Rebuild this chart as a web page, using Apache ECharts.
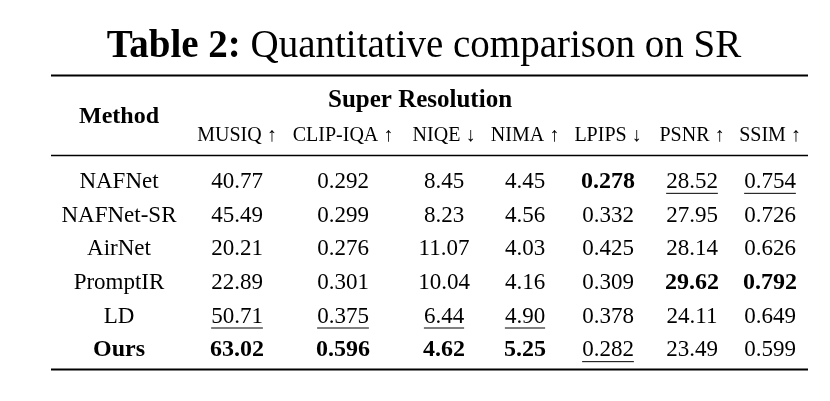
<!DOCTYPE html>
<html><head><meta charset="utf-8">
<script src="https://cdn.jsdelivr.net/npm/echarts@6/dist/echarts.min.js"></script>
<style>html,body{margin:0;padding:0;background:#fff}#c{width:830px;height:401px}</style>
</head><body><div id="c"></div>
<script>
// ---- data ----
const methods = ['NAFNet', 'NAFNet-SR', 'AirNet', 'PromptIR', 'LD', 'Ours'];
const metrics = ['MUSIQ', 'CLIP-IQA', 'NIQE', 'NIMA', 'LPIPS', 'PSNR', 'SSIM'];
const arrows = ['↑', '↑', '↓', '↑', '↓', '↑', '↑'];
const MUSIQ = [40.77, 45.49, 20.21, 22.89, 50.71, 63.02];
const CLIPIQA = [0.292, 0.299, 0.276, 0.301, 0.375, 0.596];
const NIQE = [8.45, 8.23, 11.07, 10.04, 6.44, 4.62];
const NIMA = [4.45, 4.56, 4.03, 4.16, 4.90, 5.25];
const LPIPS = [0.278, 0.332, 0.425, 0.309, 0.378, 0.282];
const PSNR = [28.52, 27.95, 28.14, 29.62, 24.11, 23.49];
const SSIM = [0.754, 0.726, 0.626, 0.792, 0.649, 0.599];
const decimals = [2, 3, 2, 2, 3, 2, 3];
const best = [5, 5, 5, 5, 0, 3, 3];     // bold row per metric
const second = [4, 4, 4, 4, 5, 0, 0];   // underlined row per metric
const titleBold = 'Table 2:';
const titleRest = 'Quantitative comparison on SR';
const groupLabel = 'Super Resolution';
const methodLabel = 'Method';

// ---- layout ----
const colX = [119, 237, 343, 444, 525, 608, 692, 770];
const FONT = '"Liberation Serif", "Times New Roman", serif';
const FS = 23, BFS = 24, HFS = 20;
const allCols = [MUSIQ, CLIPIQA, NIQE, NIMA, LPIPS, PSNR, SSIM];

const ctx = document.createElement('canvas').getContext('2d');
function measure(t, f) { ctx.font = f; return ctx.measureText(t).width; }

const cells = [];
methods.forEach((m, r) => {
  cells.push([0, r, m]);
  allCols.forEach((arr, c) => cells.push([c + 1, r, arr[r].toFixed(decimals[c])]));
});

const chart = echarts.init(document.getElementById('c'), null, {renderer: 'canvas'});
const L = 51, R = 808;
chart.setOption({
  backgroundColor: '#fff',
  animation: false,
  grid: {left: 0, right: 0, top: 165, bottom: 34},
  xAxis: {type: 'value', min: 0, max: 830, show: false},
  yAxis: {type: 'category', data: methods, inverse: true, show: false},
  series: [{
    type: 'custom',
    data: cells,
    renderItem: function (params, api) {
      const c = api.value(0), r = api.value(1);
      const item = cells[params.dataIndex];
      const txt = item[2];
      const p = api.coord([colX[c], r]);
      const bold = (c === 0 && r === 5) || (c > 0 && best[c - 1] === r);
      const under = c > 0 && second[c - 1] === r;
      const font = bold ? ('bold ' + BFS + 'px ' + FONT) : (FS + 'px ' + FONT);
      const ch = [{type: 'text', x: p[0], y: p[1], style: {text: txt, font: font, fill: '#000', align: 'center', verticalAlign: 'middle'}}];
      if (under) {
        const w = measure(txt, font);
        ch.push({type: 'line', shape: {x1: p[0] - w / 2, y1: p[1] + 11.5, x2: p[0] + w / 2, y2: p[1] + 11.5}, style: {stroke: '#000', lineWidth: 1}});
      }
      return {type: 'group', children: ch};
    }
  }],
  graphic: [
    {type: 'text', x: 424, y: 47, style: {text: '{b|' + titleBold + '}{r| ' + titleRest + '}', align: 'center', verticalAlign: 'middle',
      rich: {b: {font: 'bold 39px ' + FONT, fill: '#000'}, r: {font: '39px ' + FONT, fill: '#000'}}}},
    {type: 'line', shape: {x1: L, y1: 75.5, x2: R, y2: 75.5}, style: {stroke: '#000', lineWidth: 2.2}},
    {type: 'text', x: colX[0], y: 117, style: {text: methodLabel, font: 'bold ' + BFS + 'px ' + FONT, fill: '#000', align: 'center', verticalAlign: 'middle'}},
    {type: 'text', x: 420, y: 101, style: {text: groupLabel, font: 'bold 25px ' + FONT, fill: '#000', align: 'center', verticalAlign: 'middle'}},
    ...metrics.map((m, i) => ({type: 'text', x: colX[i + 1], y: 136, style: {text: m + ' ' + arrows[i], font: HFS + 'px ' + FONT, fill: '#000', align: 'center', verticalAlign: 'middle'}})),
    {type: 'line', shape: {x1: L, y1: 155.5, x2: R, y2: 155.5}, style: {stroke: '#000', lineWidth: 1.4}},
    {type: 'line', shape: {x1: L, y1: 369.5, x2: R, y2: 369.5}, style: {stroke: '#000', lineWidth: 2.2}}
  ]
});
</script></body></html>
